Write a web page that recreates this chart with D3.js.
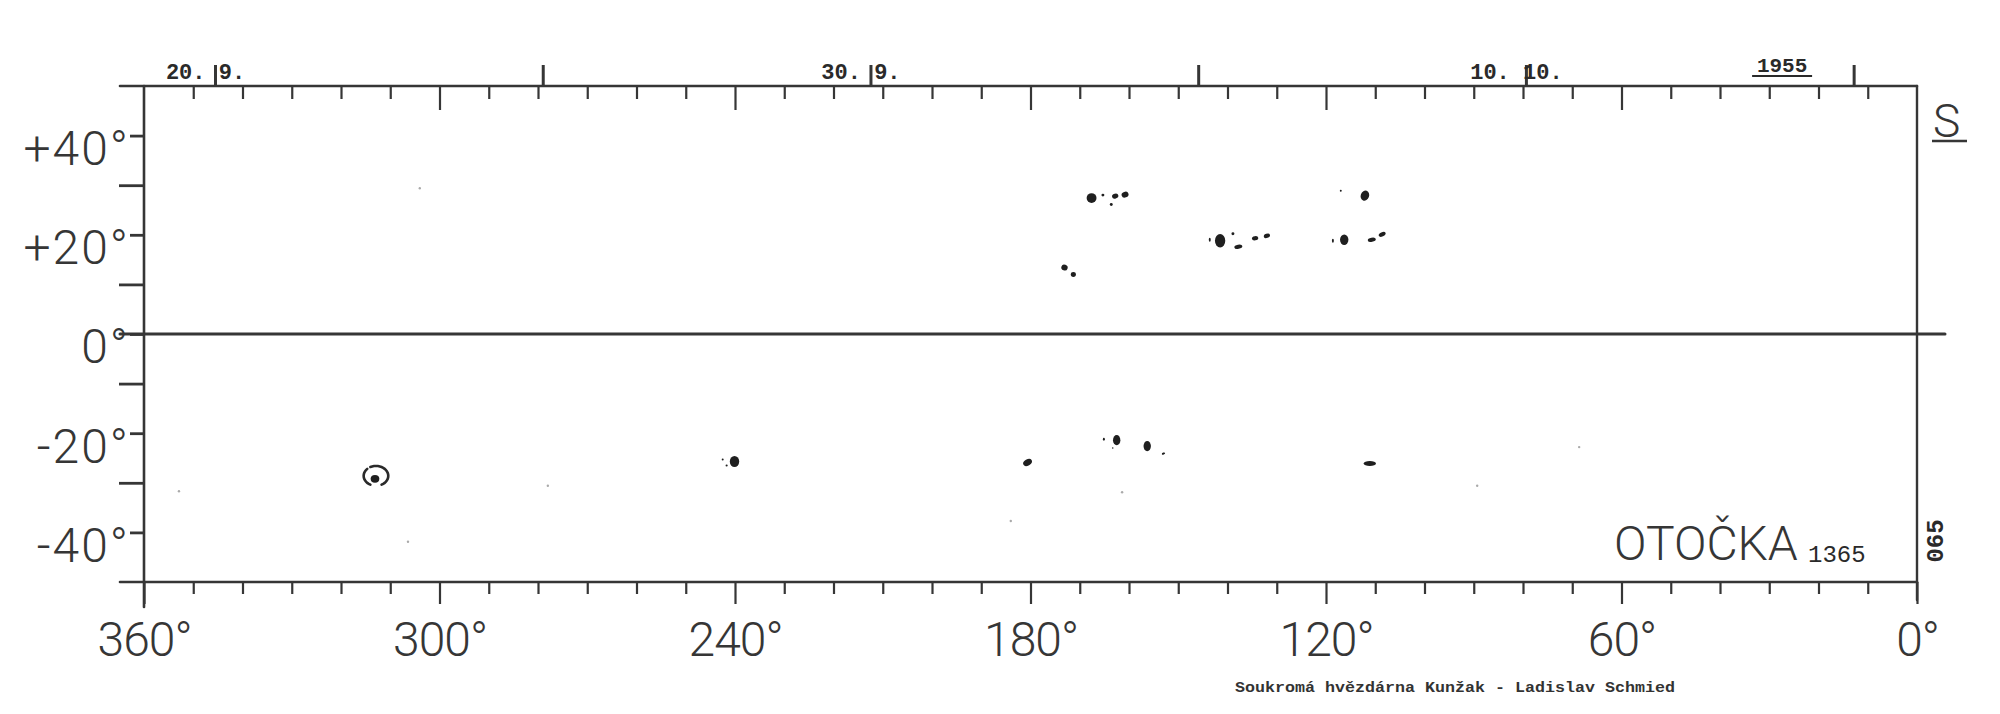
<!DOCTYPE html>
<html>
<head>
<meta charset="utf-8">
<script src="https://cdn.jsdelivr.net/npm/d3@7"></script>
<style>
  html, body { margin: 0; padding: 0; background: #fff; }
  svg { display: block; }
</style>
</head>
<body>
<svg id="chart" width="2000" height="714"></svg>
<script>
// ---------------- data ----------------
const lonLabelTicks = [360, 300, 240, 180, 120, 60, 0];
const lonMinorTicks = [350, 340, 330, 320, 310, 290, 280, 270, 260, 250, 230, 220, 210, 200, 190,
                       170, 160, 150, 140, 130, 110, 100, 90, 80, 70, 50, 40, 30, 20, 10];
const latLabelTicks = [40, 20, 0, -20, -40];
const latMinorTicks = [30, 10, -10, -30];
const latLabels = ["+40°", "+20°", "0°", "-20°", "-40°"];

const rotationStart = "1955-09-18T22:00:00Z";   // date at longitude 360°
const rotationDays = 27.05;                      // days to reach longitude 0°
const dateTicks = ["1955-09-20", "1955-09-25", "1955-09-30", "1955-10-05", "1955-10-10", "1955-10-15"];
const dateLabelled = ["1955-09-20", "1955-09-30", "1955-10-10"];
const yearLabel = "1955";
const yearLabelDate = "1955-10-14";

const groupName = "OTOČKA";
const rotationNumber = "1365";
const sheetNumber = "065";
const hemisphere = "S";
const footer = "Soukromá hvězdárna Kunžak - Ladislav Schmied";

// sunspots: [longitude°, latitude°, half-width in lon°, half-height in lat°, tilt°]
const spots = [
  [167.6, 27.4, 1.00, 1.00, 0],
  [165.3, 28.0, 0.30, 0.30, 0],
  [163.6, 26.1, 0.30, 0.30, 0],
  [162.8, 27.8, 0.65, 0.48, -15],
  [160.8, 28.1, 0.72, 0.58, -20],
  [173.1, 13.4, 0.65, 0.58, 20],
  [171.3, 12.0, 0.52, 0.50, 0],
  [117.0, 28.9, 0.20, 0.20, 0],
  [112.1, 27.9, 0.85, 1.05, 20],
  [143.6, 19.0, 0.20, 0.40, 0],
  [141.5, 18.8, 1.05, 1.35, 0],
  [138.9, 20.2, 0.30, 0.30, 0],
  [137.8, 17.6, 0.82, 0.42, -10],
  [134.4, 19.3, 0.65, 0.42, -10],
  [132.0, 19.8, 0.65, 0.42, -20],
  [118.6, 18.8, 0.20, 0.40, 0],
  [116.3, 19.0, 0.85, 1.05, 0],
  [110.7, 19.0, 0.82, 0.42, -10],
  [108.6, 20.1, 0.75, 0.42, -25],
  [313.1, -29.2, 0.88, 0.78, 0],
  [242.5, -25.3, 0.20, 0.20, 0],
  [241.7, -26.5, 0.22, 0.20, 0],
  [240.1, -25.7, 0.95, 1.12, 0],
  [180.6, -25.9, 0.95, 0.64, -30],
  [165.1, -21.2, 0.20, 0.30, 0],
  [162.5, -21.4, 0.75, 1.02, 0],
  [163.3, -23.0, 0.15, 0.15, 0],
  [156.3, -22.6, 0.75, 1.02, 0],
  [153.0, -24.1, 0.35, 0.20, -20],
  [111.1, -26.1, 1.25, 0.52, 0]
];
// penumbra outline: [lon, lat, radius lon°, radius lat°]
const penumbrae = [[312.9, -28.6, 2.5, 2.0]];
// faint specks on the sheet: [lon, lat]
const specks = [[352.9, -31.7], [306.4, -41.9], [278.0, -30.6], [68.6, -22.8],
                [89.3, -30.6], [161.4, -31.9], [184.0, -37.7], [304.0, 29.4]];

// ---------------- layout ----------------
const ink = "#363636";
const svg = d3.select("#chart");
const x = d3.scaleLinear().domain([360, 0]).range([144, 1917]);
const y = d3.scaleLinear().domain([-50, 50]).range([582, 86]);
const parseDay = d3.utcParse("%Y-%m-%d");
const start = new Date(rotationStart);
const end = new Date(start.getTime() + rotationDays * 864e5);
const dateX = d3.scaleUtc().domain([start, end]).range([x(360), x(0)]);

const labelFont = "Roboto, 'DejaVu Sans', sans-serif";
const typeFont = "'Liberation Mono', 'DejaVu Sans Mono', monospace";

function styleAxis(g, width) {
  g.select(".domain").remove();
  g.selectAll(".tick line").attr("stroke", ink).attr("stroke-width", width);
}

// frame lines
const frame = svg.append("g").attr("stroke", ink).attr("fill", "none").attr("stroke-linecap", "round");
frame.append("line").attr("x1", x(360) - 24).attr("x2", x(0)).attr("y1", y(50)).attr("y2", y(50)).attr("stroke-width", 2.6);
frame.append("line").attr("x1", x(360) - 24).attr("x2", x(0)).attr("y1", y(-50)).attr("y2", y(-50)).attr("stroke-width", 2.6);
frame.append("line").attr("x1", x(360)).attr("x2", x(360)).attr("y1", y(50)).attr("y2", y(-50) + 25).attr("stroke-width", 2.6);
frame.append("line").attr("x1", x(0)).attr("x2", x(0)).attr("y1", y(50)).attr("y2", y(-50) + 18).attr("stroke-width", 2.4);
frame.append("line").attr("x1", x(360) - 24).attr("x2", x(0) + 28).attr("y1", y(0)).attr("y2", y(0)).attr("stroke-width", 3);

// bottom longitude axis
const bMinor = svg.append("g").attr("transform", `translate(0,${y(-50)})`)
  .call(d3.axisBottom(x).tickValues(lonMinorTicks).tickSize(12).tickFormat(""));
styleAxis(bMinor, 2.2);
const bMajor = svg.append("g").attr("transform", `translate(0,${y(-50)})`)
  .call(d3.axisBottom(x).tickValues(lonLabelTicks).tickSize(22).tickPadding(18).tickFormat(d => d + "°"));
styleAxis(bMajor, 2.2);
bMajor.selectAll("text").attr("font-family", labelFont).attr("font-weight", 300)
  .attr("font-size", 48).attr("letter-spacing", -1).attr("fill", ink);

// top longitude ticks (hanging into the plot)
const tMinor = svg.append("g").attr("transform", `translate(0,${y(50)})`)
  .call(d3.axisBottom(x).tickValues(lonMinorTicks).tickSize(13).tickFormat(""));
styleAxis(tMinor, 2.2);
const tMajor = svg.append("g").attr("transform", `translate(0,${y(50)})`)
  .call(d3.axisBottom(x).tickValues(lonLabelTicks.filter(d => d !== 360 && d !== 0)).tickSize(24).tickFormat(""));
styleAxis(tMajor, 2.2);

// date axis above the top
const labelledSet = new Set(dateLabelled);
const fmtKey = d3.utcFormat("%Y-%m-%d");
const fmtDate = d3.utcFormat("%-d. %-m.");
const dAxis = svg.append("g").attr("transform", `translate(0,${y(50)})`)
  .call(d3.axisTop(dateX).tickValues(dateTicks.map(parseDay)).tickSize(21)
    .tickFormat(d => labelledSet.has(fmtKey(d)) ? fmtDate(d) : ""));
styleAxis(dAxis, 3);
dAxis.selectAll("text").attr("y", -7).attr("dx", -10)
  .attr("font-family", typeFont).attr("font-weight", "bold").attr("font-size", 22).attr("fill", "#2a2a2a");

const yx = dateX(parseDay(yearLabelDate)) - 6;
svg.append("text").attr("x", yx).attr("y", 72).attr("text-anchor", "middle")
  .attr("font-family", typeFont).attr("font-weight", "bold").attr("font-size", 21).attr("fill", "#2a2a2a")
  .text(yearLabel);
svg.append("line").attr("x1", yx - 30).attr("x2", yx + 30).attr("y1", 76).attr("y2", 76)
  .attr("stroke", "#2a2a2a").attr("stroke-width", 2);

// left latitude axis
const lMinor = svg.append("g").attr("transform", `translate(${x(360)},0)`)
  .call(d3.axisLeft(y).tickValues(latMinorTicks).tickSize(25).tickFormat(""));
styleAxis(lMinor, 2.8);
const lMajor = svg.append("g").attr("transform", `translate(${x(360)},0)`)
  .call(d3.axisLeft(y).tickValues(latLabelTicks).tickSize(14).tickPadding(0)
    .tickFormat((d, i) => latLabels[i]));
styleAxis(lMajor, 2.8);
lMajor.selectAll("text").attr("dy", "0.6em").attr("font-family", labelFont).attr("font-weight", 300)
  .attr("font-size", 48).attr("letter-spacing", 2).attr("fill", ink);

// specks
svg.append("g").selectAll("circle").data(specks).join("circle")
  .attr("cx", d => x(d[0])).attr("cy", d => y(d[1])).attr("r", 1.2).attr("fill", "#aaa");

// penumbra outlines
const arcLine = d3.line();
penumbrae.forEach(p => {
  const cx = x(p[0]), cy = y(p[1]);
  const rx = Math.abs(x(p[0] + p[2]) - cx), ry = Math.abs(y(p[1] + p[3]) - cy);
  [[-0.15, 0.85], [1.15, 1.75]].forEach(([a0, a1]) => {
    const pts = d3.range(a0, a1 + 0.001, 0.05).map(t => [cx + rx * Math.sin(t * Math.PI), cy - ry * Math.cos(t * Math.PI)]);
    svg.append("path").attr("d", arcLine(pts)).attr("fill", "none").attr("stroke", "#2a2a2a")
      .attr("stroke-width", 2.6).attr("stroke-linecap", "round");
  });
});

// sunspots
svg.append("g").selectAll("ellipse").data(spots).join("ellipse")
  .attr("cx", d => x(d[0])).attr("cy", d => y(d[1]))
  .attr("rx", d => Math.abs(x(d[0] + d[2]) - x(d[0])))
  .attr("ry", d => Math.abs(y(d[1] + d[3]) - y(d[1])))
  .attr("transform", d => `rotate(${d[4]},${x(d[0])},${y(d[1])})`)
  .attr("fill", "#1f1f1f");

// hemisphere mark
svg.append("text").attr("x", x(0) + 16).attr("y", 137).attr("font-family", labelFont).attr("font-weight", 300)
  .attr("font-size", 46).attr("fill", ink).text(hemisphere);
svg.append("line").attr("x1", x(0) + 15).attr("x2", x(0) + 50).attr("y1", 141).attr("y2", 141)
  .attr("stroke", ink).attr("stroke-width", 2.4);

// group name + rotation number
svg.append("text").attr("x", 1614).attr("y", 560).attr("font-family", labelFont).attr("font-weight", 300)
  .attr("font-size", 48).attr("fill", ink).text(groupName);
svg.append("text").attr("x", 1808).attr("y", 562).attr("font-family", typeFont).attr("font-size", 24)
  .attr("fill", "#2a2a2a").text(rotationNumber);

// sheet number, vertical
svg.append("text").attr("transform", `translate(${x(0) + 26},${541}) rotate(-90)`).attr("text-anchor", "middle")
  .attr("font-family", typeFont).attr("font-weight", "bold").attr("font-size", 24).attr("fill", "#2a2a2a")
  .text(sheetNumber);

// footer
svg.append("text").attr("x", 1235).attr("y", 692).attr("textLength", 440).attr("lengthAdjust", "spacingAndGlyphs")
  .attr("font-family", typeFont).attr("font-weight", "bold").attr("font-size", 15).attr("fill", "#333")
  .text(footer);
</script>
</body>
</html>
